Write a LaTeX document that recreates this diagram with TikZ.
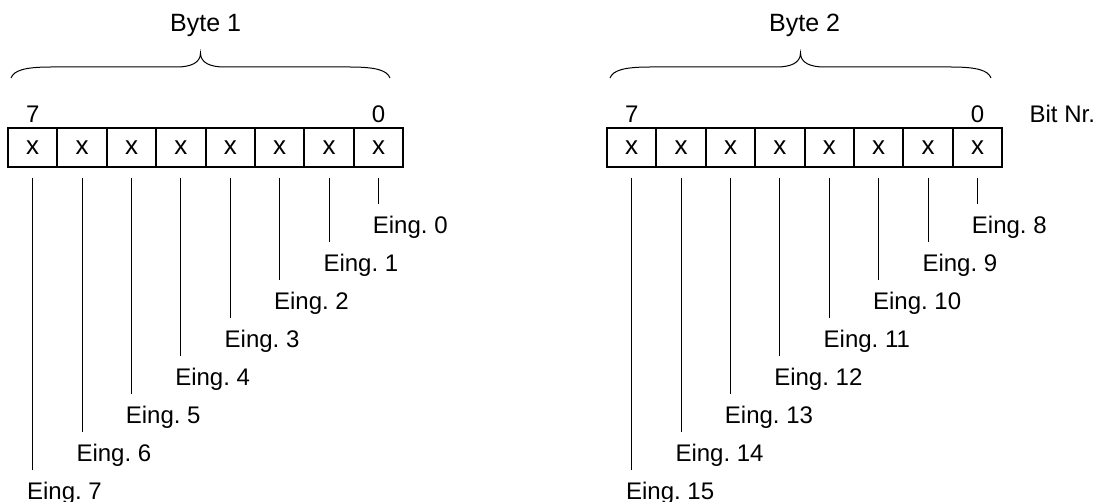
\documentclass[tikz,border=0pt]{standalone}
\usepackage{fontspec}
\setmainfont{Liberation Sans}
\usetikzlibrary{calc,positioning}
\frenchspacing

\begin{document}
\begin{tikzpicture}[
    x=0.5pt, y=-0.5pt,
    every node/.style={font=\fontsize{12}{14}\selectfont},
    cell/.style={draw, line width=1pt, minimum width=24.7pt, minimum height=19.5pt, inner sep=0pt, outer sep=0pt,
      font=\fontsize{13}{15}\selectfont},
    bitnr/.style={anchor=base, inner sep=0pt},
    title/.style={anchor=base, inner sep=0pt, font=\fontsize{12.5}{15}\selectfont},
    inp/.style={anchor=base west, inner sep=0pt},
    wire/.style={line width=0.5pt},
    brace/.style={line width=0.5pt}
]
\useasboundingbox (0,0) rectangle (1106,502);
% the two bytes, bit 7 on the left
\foreach \b/\x in {1/8, 2/607} {
  \foreach \k in {0,...,7}
    \node[cell] (bit\b\k) at ({\x + 49.4*(7-\k) + 24.7}, 147.5) {x};
  \node[bitnr] (hi\b) at ($(bit\b7.north)+(0,-5)$) {7};
  \node[bitnr] (lo\b) at ($(bit\b0.north)+(0,-5)$) {0};
  \node[title] (byte\b) at ($($(bit\b7.north west)!0.5!(bit\b0.north east)$)+(0,-96.5)$) {Byte \b};
}
\node[inp] (bitnr) at ($(bit20.north east)+(27,-5)$) {Bit Nr.};
% braces over the bytes
\foreach \b/\l/\r in {1/11/390, 2/610/991} {
  \pgfmathsetmacro\m{(\l+\r)/2}
  \draw[brace] (\l,78) .. controls ({\l+3},70) and ({\l+15},67) .. ({\l+40},67)
    -- ({\m-24},67) .. controls ({\m-10},67) and (\m,63) .. (\m,53)
    .. controls (\m,63) and ({\m+10},67) .. ({\m+24},67)
    -- ({\r-40},67) .. controls ({\r-15},67) and ({\r-3},70) .. (\r,78);
}
% one wire per input
\foreach \b in {1,2}
  \foreach \k in {0,...,7} {
    \pgfmathtruncatemacro\n{8*(\b-1)+\k}
    \coordinate (top\n) at ($(bit\b\k.south)+(0,11)$);
    \coordinate (end\n) at ($(bit\b\k.south)+(0,{36.5+38.1*\k})$);
    \draw[wire] (top\n) -- (end\n);
    \node[inp] (eing\n) at ($(end\n)+(-6,29.5)$) {Eing. \n};
  }
\end{tikzpicture}
\end{document}
